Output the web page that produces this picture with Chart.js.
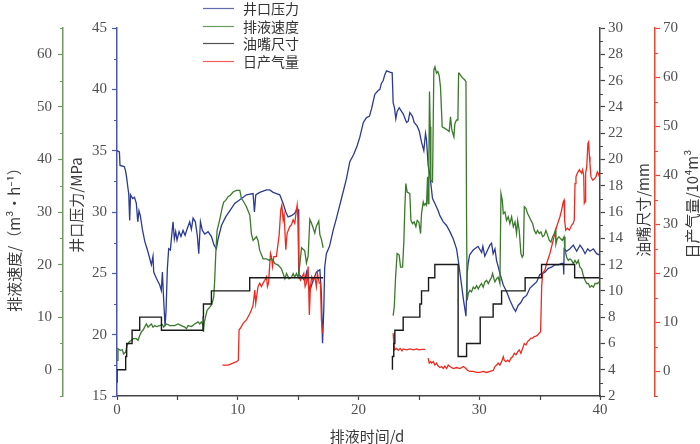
<!DOCTYPE html>
<html>
<head>
<meta charset="utf-8">
<script src="https://cdn.jsdelivr.net/npm/chart.js@4.4.1/dist/chart.umd.min.js"></script>
<style>
html,body{margin:0;padding:0;background:#fff;}
#wrap{width:700px;height:444px;}
</style>
</head>
<body>
<div id="wrap"><canvas id="c" width="700" height="444"></canvas></div>
<script>
// ---- Data ----
// 井口压力 (MPa) vs 排液时间 (d)
const pressureDay = [0,0.2,0.25,0.6,0.7,0.8,0.9,0.97,1.05,1.12,1.3,1.45,1.6,1.72,1.82,1.93,2.1,2.3,2.55,2.85,2.98,3.04,3.26,3.54,3.67,3.76,3.87,3.98,4.06,4.17,4.28,4.42,4.56,4.64,4.75,4.86,4.97,5.14,5.3,5.47,5.64,5.8,6.02,6.16,6.3,6.49,6.66,6.77,6.91,7.07,7.27,7.54,7.82,8.04,8.23,8.37,8.65,9.0,9.34,9.75,10.17,10.72,11.27,11.38,11.49,11.82,12.38,12.65,12.93,13.2,13.48,13.76,13.98,14.17,14.45,14.72,14.92,15.0,15.05,15.3,15.55,15.7,15.97,16.24,16.51,16.8,16.93,17.02,17.13,17.2,17.34,17.6,17.9,18.15,18.59,19.0,19.28,19.61,19.89,20.11,20.4,20.66,20.9,21.08,21.35,21.63,21.77,21.9,22.04,22.18,22.32,22.6,22.79,22.87,22.98,23.09,23.2,23.37,23.56,23.7,23.98,24.12,24.25,24.47,24.61,24.86,25.03,25.22,25.41,25.55,25.63,25.77,25.91,26.13,26.33,26.6,26.74,27.02,27.29,27.57,27.85,28.12,28.3,28.5,28.7,28.9,29.0,29.08,29.2,29.5,29.9,30.2,30.3,30.46,30.74,30.88,31.02,31.15,31.3,31.44,31.57,31.71,31.99,32.27,32.54,32.82,33.01,33.23,33.43,33.65,33.92,34.2,34.47,34.75,35.02,35.25,35.44,35.72,35.99,36.27,36.55,36.82,36.96,37.0,37.03,37.24,37.51,37.79,38.07,38.34,38.56,38.76,38.98,39.17,39.45,39.72,39.94];
const pressureMPa = [35.0,34.9,33.8,33.7,33.4,32.8,32.0,31.5,29.3,31.4,31.1,31.2,30.7,29.2,30.1,29.7,28.6,27.6,26.8,25.7,26.4,25.1,24.6,24.05,23.6,25.1,22.7,20.7,21.9,25.4,27.0,26.9,28.4,29.2,27.8,28.4,27.7,28.4,28.0,28.5,28.1,28.6,29.2,28.6,29.5,29.2,28.0,26.6,29.2,28.5,28.2,28.4,28.0,27.3,27.0,27.8,28.9,29.6,30.1,30.7,31.0,31.4,31.5,30.0,31.4,31.6,31.8,31.8,31.6,31.5,31.4,30.7,30.0,29.6,29.7,29.9,30.3,30.2,24.9,24.7,24.4,25.1,23.6,24.4,25.1,25.3,23.3,19.3,22.2,25.5,26.6,27.2,28.5,29.4,31.1,32.7,34.1,34.7,35.4,36.1,37.3,37.7,37.8,38.4,39.6,39.9,40.0,40.5,40.7,41.2,41.5,41.4,41.35,38.9,38.5,37.6,38.2,38.5,38.2,38.0,37.3,37.4,38.1,37.8,37.3,37.0,36.6,35.7,35.0,36.4,35.9,33.8,33.0,31.1,30.7,30.1,29.7,29.2,28.9,28.4,27.8,27.0,25.8,24.3,22.8,21.5,25.0,25.8,26.5,26.9,27.2,26.7,27.2,26.4,27.0,27.3,27.45,26.6,27.0,26.0,25.55,25.0,24.05,23.5,22.8,22.2,21.9,22.4,22.6,23.0,23.2,23.8,24.05,24.3,24.9,25.0,25.1,25.4,25.5,25.7,25.7,25.8,25.8,24.9,27.0,26.8,27.0,27.3,26.8,27.3,27.0,26.6,27.0,26.8,27.0,26.6,26.5];

// 排液速度 (m3/h)
const rateDay = [0,0.08,0.28,0.44,0.55,0.72,0.83,1.0,1.19,1.33,1.6,1.74,1.88,2.02,2.15,2.29,2.43,2.57,2.71,2.85,2.98,3.12,3.26,3.54,3.76,3.87,3.98,4.09,4.22,4.36,4.78,5.06,5.33,5.61,5.75,5.89,6.16,6.44,6.71,6.85,6.99,7.13,7.16,7.22,7.46,7.68,7.85,8.01,8.09,8.18,8.29,8.43,8.56,8.73,8.84,9.0,9.2,9.39,9.61,9.89,10.17,10.3,10.5,10.72,11.0,11.13,11.27,11.55,11.68,11.82,12.1,12.38,12.6,12.79,12.93,13.07,13.35,13.62,13.9,14.04,14.25,14.45,14.59,14.72,14.86,15.0,15.14,15.28,15.55,15.69,15.83,15.97,16.1,16.24,16.38,16.51,16.71,16.8,16.93,17.07,
  20,
  22.87,22.96,23.07,23.2,23.37,23.48,23.65,23.76,23.84,23.92,24.03,24.25,24.34,24.47,24.61,24.75,24.86,25.0,25.14,25.22,25.36,25.44,25.55,25.63,25.72,25.77,25.83,25.88,25.94,25.99,26.13,26.24,26.33,26.46,26.57,26.68,26.79,26.93,27.15,27.35,27.51,27.62,27.73,27.9,27.98,28.12,28.23,28.29,28.34,28.54,28.67,28.81,28.9,28.95,29.0,29.09,29.23,29.36,29.5,29.64,29.78,29.92,30.06,30.19,30.33,30.47,30.61,30.75,30.88,31.02,31.1,31.22,31.3,31.44,31.57,31.71,31.8,31.91,31.99,32.13,32.26,32.4,32.54,32.68,32.82,32.96,33.09,33.18,33.31,33.45,33.56,33.65,33.73,33.87,34.0,34.14,34.28,34.42,34.56,34.7,34.83,34.97,35.11,35.25,35.39,35.52,35.66,35.8,35.94,36.08,36.21,36.3,36.35,36.46,36.6,36.74,36.88,37.02,37.1,37.24,37.38,37.51,37.65,37.79,37.93,38.07,38.2,38.34,38.48,38.62,38.76,38.9,39.03,39.17,39.31,39.45,39.59,39.78,39.94];
const rateM3h = [1.8,4.0,3.7,3.8,3.0,3.35,4.6,5.3,5.6,5.9,5.9,5.6,6.5,7.2,7.5,8.1,8.7,8.1,8.4,8.7,8.1,8.4,8.2,8.4,8.6,8.1,8.4,8.7,8.6,8.4,8.4,8.7,8.4,8.1,7.8,8.4,8.2,8.7,9.1,8.7,9.1,8.4,7.2,8.9,11.3,11.9,12.4,13.8,17.0,22.1,26.5,27.8,29.1,31.0,31.9,32.2,32.9,33.2,33.8,34.1,34.1,32.6,31.9,31.0,29.4,25.9,24.6,25.3,24.6,22.7,21.1,21.1,20.8,21.1,20.8,20.2,19.9,19.2,17.3,18.3,17.3,17.6,18.3,17.6,18.3,17.6,20.0,23.2,22.6,20.3,21.6,28.6,27.9,27.0,26.0,27.3,28.3,25.7,24.8,23.2,
  null,
  10.3,11.9,17.6,22.1,21.8,19.5,19.5,24.6,31.0,35.4,33.8,33.5,28.4,27.8,28.1,27.2,28.4,28.1,25.9,29.7,31.9,31.3,31.6,31.3,36.7,31.6,40.5,52.9,46.2,36.0,35.7,57.0,57.6,56.4,56.7,56.0,53.8,46.2,45.9,45.6,45.3,48.1,45.6,44.3,46.8,47.5,47.5,56.4,56.4,55.7,55.4,55.1,54.8,28.4,13.2,14.5,15.1,14.8,15.7,15.4,16.0,15.4,16.0,16.4,15.7,16.7,17.0,16.4,17.0,17.6,18.3,17.3,16.7,17.3,17.6,16.4,33.5,32.2,29.7,30.0,28.4,29.1,27.8,29.1,27.2,28.1,25.9,28.4,26.5,22.1,21.4,21.8,31.0,30.7,29.7,29.1,28.4,27.8,26.5,25.9,26.5,25.9,26.2,25.3,25.6,26.5,25.6,24.6,24.3,25.3,25.9,26.5,23.9,24.9,25.3,24.9,24.6,25.3,22.7,21.4,20.8,21.1,20.8,20.2,20.8,20.2,20.8,19.5,19.2,17.9,17.0,16.4,16.4,15.7,16.0,15.7,16.4,16.4,16.7];

// 油嘴尺寸 (mm), stepped
const chokeDay = [0,0.72,0.8,1.25,1.88,3.68,7.13,7.16,7.82,10.99,12.65,17.07, 20, 22.81,22.92,23.01,23.7,25.08,25.22,25.8,26.32,28.25,28.95,30.08,31.15,31.85,33.8,35.16,37.9,39.3,39.94];
const chokeMm  = [3,4,5,6,7,8,7,8,9,10,11,11, null, 4,5,6,7,8,9,10,11,12,5,6,8,9,10,11,12,11,11];

// 日产气量 (10^4 m3)
const gasDay = [8.73,9.2,9.61,9.89,10.05,10.11,10.22,10.44,10.72,11.0,11.13,11.27,11.41,11.49,11.6,11.68,11.82,11.96,12.1,12.24,12.38,12.46,12.55,12.71,12.79,12.88,12.99,13.2,13.43,13.56,13.65,13.76,13.84,13.98,14.09,14.31,14.45,14.59,14.72,14.86,14.92,15.0,15.08,15.19,15.33,15.47,15.58,15.69,15.83,15.93,16.02,16.13,16.24,16.38,16.51,16.6,16.75,16.85,16.93,17.02,
  20,
  22.87,22.93,23.0,23.15,23.3,23.45,23.6,23.7,24.0,24.25,24.55,24.8,25.0,25.3,25.52,
  25.6,
  25.77,25.86,25.97,26.05,26.19,26.33,26.46,26.6,26.74,26.88,27.02,27.15,27.29,27.43,27.57,27.85,28.12,28.4,28.68,28.9,29.0,29.23,29.5,29.78,30.06,30.33,30.61,30.88,31.16,31.3,31.44,31.57,31.71,31.85,31.99,32.07,32.21,32.35,32.49,32.62,32.76,32.9,33.04,33.18,33.31,33.45,33.59,33.73,33.87,34.0,34.14,34.28,34.42,34.56,34.7,34.83,34.97,35.08,35.17,35.25,35.44,35.58,35.86,36.13,36.41,36.68,36.82,36.96,37.02,37.07,37.16,37.3,37.46,37.65,37.79,37.87,37.93,38.01,38.12,38.29,38.4,38.48,38.56,38.65,38.7,38.76,38.81,38.9,39.0,39.06,39.12,39.17,39.25,39.39,39.53,39.67,39.78,39.86,39.94];
const gasE4m3 = [1.3,1.3,1.7,2.0,2.3,8.5,8.8,9.8,10.5,11.8,12.5,13.5,16.6,13.9,15.9,17.3,18.0,17.3,18.0,18.6,19.3,17.3,18.0,24.1,23.4,21.4,23.4,23.4,27.8,32.9,33.9,30.9,31.9,24.8,28.2,29.5,29.9,30.9,30.2,32.9,33.9,30.9,19.3,18.6,19.3,20.0,17.3,18.0,21.4,11.5,17.3,19.3,18.6,19.3,17.3,20.0,18.0,18.0,10.5,7.8,
  null,
  7.8,5.4,4.4,4.7,4.3,4.7,4.2,4.6,4.4,4.6,4.4,4.6,4.4,4.5,4.5,
  null,
  2.7,1.7,2.0,1.7,2.0,1.3,1.7,1.1,0.8,1.0,0.6,1.1,0.6,1.3,1.0,0.6,0.8,0.6,1.0,0.6,0.3,0,0,-0.2,-0.2,0,-0.2,0,0.2,1.0,1.3,1.7,1.3,2.0,3.0,2.3,2.0,2.3,2.0,2.7,3.0,3.7,3.4,4.0,4.4,3.7,4.7,5.7,5.4,6.1,6.4,6.8,6.8,7.1,7.2,7.4,7.8,8.1,17.3,20.0,20.7,22.0,24.1,26.8,29.5,31.5,32.9,34.6,34.9,30.9,28.8,29.2,28.8,29.8,30.2,30.9,38.3,39.7,40.4,41.1,40.7,40.4,41.1,40.0,34.3,34.6,40.4,41.7,46.5,46.8,43.8,42.4,39.7,39.0,39.2,39.7,40.7,40.4,39.7];

// Axis tick labels (major) and ranges
const xTickLabels = [0, 10, 20, 30, 40];
const pressureTickLabels = [15, 20, 25, 30, 35, 40, 45];
const rateTickLabels = [0, 10, 20, 30, 40, 50, 60];
const chokeTickLabels = [2, 4, 6, 8, 10, 12, 14, 16, 18, 20, 22, 24, 26, 28, 30];
const gasTickLabels = [0, 10, 20, 30, 40, 50, 60, 70];
const xTicks = {min: 0, max: 40, major: xTickLabels, minor: 5};
const pressureTicks = {min: 15, max: 45, major: pressureTickLabels, minor: 2.5};
const rateTicks = {min: -5, max: 65, major: rateTickLabels, minor: 5};
const chokeTicks = {min: 2, max: 30, major: chokeTickLabels, minor: 1};
const gasTicks = {min: -5, max: 70, major: gasTickLabels, minor: 5};

const seriesNames = ['井口压力', '排液速度', '油嘴尺寸', '日产气量'];
const axisTitles = {
  x: '排液时间/d',
  pressure: '井口压力/MPa',
  rate: '排液速度/（m³•h⁻¹）',
  choke: '油嘴尺寸/mm',
  gas: '日产气量/10⁴m³'
};

// ---- Styles ----
const C_BLUE = '#2b3a93';
const C_GREEN = '#3a7a2a';
const C_BLACK = '#1a1a1a';
const C_RED = '#ee2a1f';
const AX_BLUE = '#4b57a8';
const AX_GREEN = '#6d9b5d';
const AX_BLACK = '#444444';
const AX_RED = '#ee4535';
const TICK_FONT = {family: '"Liberation Serif", "DejaVu Serif", serif', size: 15};
const CJK = '"Noto Sans CJK SC", "Noto Sans", sans-serif';

function pts(xs, ys) { return xs.map((x, i) => ({x: x, y: ys[i]})); }

function yAxis(t, pos, color, width, weight, pad) {
  return {
    type: 'linear', position: pos, min: t.min, max: t.max, weight: weight,
    afterFit: s => { s.width = width; },
    afterBuildTicks: s => { s.ticks = t.major.map(v => ({value: v})); },
    border: {display: true, color: color, width: 1.5},
    grid: {display: true, drawOnChartArea: false, drawTicks: true, tickLength: 5, tickColor: color, tickWidth: 1.2},
    ticks: {autoSkip: false, font: TICK_FONT, color: '#505050', padding: pad}
  };
}

const overlay = {
  id: 'overlay',
  afterDraw(chart) {
    const ctx = chart.ctx;
    const sc = chart.scales;
    function minors(scale, t, color, side) {
      ctx.save();
      ctx.strokeStyle = color; ctx.lineWidth = 1.2;
      ctx.beginPath();
      const n = Math.round((t.max - t.min) / t.minor);
      for (let k = 0; k <= n; k++) {
        const v = t.min + k * t.minor;
        if (t.major.some(m => Math.abs(m - v) < 1e-6)) continue;
        if (side === 'left') {
          const y = Math.round(scale.getPixelForValue(v)) + 0.5; const x = scale.right;
          ctx.moveTo(x - 3, y); ctx.lineTo(x, y);
        } else if (side === 'right') {
          const y = Math.round(scale.getPixelForValue(v)) + 0.5; const x = scale.left;
          ctx.moveTo(x, y); ctx.lineTo(x + 3, y);
        } else {
          const x = Math.round(scale.getPixelForValue(v)) + 0.5; const y = scale.top;
          ctx.moveTo(x, y); ctx.lineTo(x, y + 4);
        }
      }
      ctx.stroke();
      ctx.restore();
    }
    minors(sc.x, xTicks, AX_BLACK, 'bottom');
    minors(sc.yP, pressureTicks, AX_BLUE, 'left');
    minors(sc.yG, rateTicks, AX_GREEN, 'left');
    minors(sc.yS, chokeTicks, AX_BLACK, 'right');
    minors(sc.yR, gasTicks, AX_RED, 'right');

    // axis titles
    ctx.save();
    ctx.fillStyle = '#3a3a3a';
    ctx.font = '15px ' + CJK;
    ctx.textAlign = 'center'; ctx.textBaseline = 'middle';
    ctx.fillText(axisTitles.x, 367, 436);
    function vt(text, x, y) {
      ctx.save(); ctx.translate(x, y); ctx.rotate(-Math.PI / 2);
      ctx.fillText(text, 0, 0); ctx.restore();
    }
    vt(axisTitles.rate, 14, 236);
    vt(axisTitles.pressure, 76, 205);
    vt(axisTitles.choke, 643, 210);
    vt(axisTitles.gas, 692, 204);
    ctx.restore();

    // legend
    const cols = [C_BLUE, C_GREEN, C_BLACK, C_RED];
    ctx.save();
    ctx.font = '14px ' + CJK;
    ctx.textAlign = 'left'; ctx.textBaseline = 'middle';
    for (let i = 0; i < 4; i++) {
      const y = 8 + i * 17.5;
      ctx.strokeStyle = cols[i]; ctx.globalAlpha = 0.75; ctx.lineWidth = 1.2;
      ctx.beginPath(); ctx.moveTo(203, Math.round(y) + 0.5); ctx.lineTo(234, Math.round(y) + 0.5); ctx.stroke();
      ctx.globalAlpha = 1;
      ctx.fillStyle = '#333';
      ctx.fillText(seriesNames[i], 243, y + 1);
    }
    ctx.restore();
  }
};

const ds = (label, data, color, axis, extra) => Object.assign({
  label: label, data: data, borderColor: color, backgroundColor: color,
  borderWidth: 1.3, pointRadius: 0, tension: 0, yAxisID: axis, spanGaps: false, fill: false
}, extra || {});

new Chart(document.getElementById('c'), {
  type: 'line',
  data: {
    datasets: [
      ds(seriesNames[2], pts(chokeDay, chokeMm), C_BLACK, 'yS', {stepped: 'after', borderWidth: 1.4}),
      ds(seriesNames[1], pts(rateDay, rateM3h), C_GREEN, 'yG'),
      ds(seriesNames[3], pts(gasDay, gasE4m3), C_RED, 'yR'),
      ds(seriesNames[0], pts(pressureDay, pressureMPa), C_BLUE, 'yP')
    ]
  },
  options: {
    responsive: false, animation: false,
    layout: {padding: {top: 28, left: 0, right: 0, bottom: 0}},
    plugins: {legend: {display: false}, tooltip: {enabled: false}},
    scales: {
      x: {
        type: 'linear', position: 'bottom', min: xTicks.min, max: xTicks.max,
        afterFit: s => { s.height = 48; },
        afterBuildTicks: s => { s.ticks = xTicks.major.map(v => ({value: v})); },
        border: {display: true, color: AX_BLACK, width: 1.5},
        grid: {display: true, drawOnChartArea: false, drawTicks: true, tickLength: 4, tickColor: AX_BLACK, tickWidth: 1.2},
        ticks: {autoSkip: false, font: TICK_FONT, color: '#505050', padding: 1, maxRotation: 0}
      },
      yP: yAxis(pressureTicks, 'left', AX_BLUE, 54, 1, 5),
      yG: yAxis(rateTicks, 'left', AX_GREEN, 63, 2, 6),
      yS: yAxis(chokeTicks, 'right', AX_BLACK, 55, 1, 3),
      yR: yAxis(gasTicks, 'right', AX_RED, 45, 2, 3)
    }
  },
  plugins: [overlay]
});
</script>
</body>
</html>
